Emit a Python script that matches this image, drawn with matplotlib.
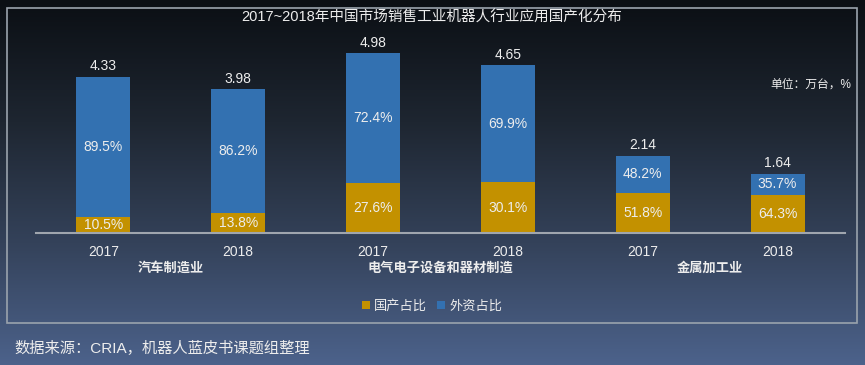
import numpy as np
import matplotlib
matplotlib.use("Agg")
from matplotlib import pyplot as plt
from matplotlib.patches import Rectangle

plt.rcParams['font.family'] = ['Liberation Sans', 'Noto Sans CJK SC', 'DejaVu Sans']

years = ['2017', '2018', '2017', '2018', '2017', '2018']
industries = ['汽车制造业', '电气电子设备和器材制造', '金属加工业']
totals = [4.33, 3.98, 4.98, 4.65, 2.14, 1.64]
domestic_pct = [10.5, 13.8, 27.6, 30.1, 51.8, 64.3]
foreign_pct = [89.5, 86.2, 72.4, 69.9, 48.2, 35.7]

gold = '#C39100'
blue = '#3371B1'
txt = '#EDEDED'

W, H = 865, 365
fig = plt.figure(figsize=(W / 100, H / 100), dpi=100)

# background gradient
bg = fig.add_axes([0, 0, 1, 1], zorder=-10)
grad = np.linspace(0, 1, 256).reshape(-1, 1)
cmap = matplotlib.colors.LinearSegmentedColormap.from_list(
    'bg', ['#0b0f14', '#1e2631', '#34425a', '#4c628b'])
bg.imshow(grad, aspect='auto', cmap=cmap, extent=[0, 1, 0, 1], origin='upper')
bg.set_xlim(0, 1)
bg.set_ylim(0, 1)
bg.axis('off')

# frame
fig.patches.append(Rectangle((7 / W, 1 - 323 / H), 850 / W, 315 / H,
                             transform=fig.transFigure, fill=False,
                             edgecolor='#9aa3ad', linewidth=1.2))

ax = fig.add_axes([36 / W, 1 - 233 / H, 809 / W, 193 / H])
ax.set_facecolor('none')
x = np.arange(len(totals))
dom = np.array(totals) * np.array(domestic_pct) / 100
frn = np.array(totals) * np.array(foreign_pct) / 100
ax.bar(x, dom, width=0.4, color=gold, label='国产占比')
ax.bar(x, frn, width=0.4, bottom=dom, color=blue, label='外资占比')
ax.set_xlim(-0.5, 5.5)
ax.set_ylim(0, 193 / 36.1)

for i in range(len(totals)):
    ax.text(x[i], dom[i] / 2, f'{domestic_pct[i]:.1f}%', ha='center', va='center',
            color=txt, fontsize=10)
    ax.text(x[i], dom[i] + frn[i] / 2, f'{foreign_pct[i]:.1f}%', ha='center', va='center',
            color=txt, fontsize=10)
    ax.text(x[i], totals[i] + 0.1, f'{totals[i]:.2f}', ha='center', va='bottom',
            color=txt, fontsize=10)

for s in ['top', 'right', 'left']:
    ax.spines[s].set_visible(False)
ax.spines['bottom'].set_color('#a0a6ae')
ax.spines['bottom'].set_linewidth(1.5)
ax.set_yticks([])
ax.set_xticks(x)
ax.set_xticklabels(years, color=txt, fontsize=10)
ax.tick_params(axis='x', length=0, pad=9)

for j, name in enumerate(industries):
    ax.text(2 * j + 0.5, -0.98, name, ha='center', va='center', color=txt,
            fontsize=9.5, fontweight='bold')

ax.text(5.55, 4.1, '单位：万台，%', ha='right', va='center', color=txt, fontsize=8.5)

leg = fig.legend(loc='center', bbox_to_anchor=(432 / W, 1 - 306 / H), ncol=2,
                 frameon=False, fontsize=9.5, handlelength=0.6, handleheight=0.6,
                 handletextpad=0.3, columnspacing=0.8)
for t in leg.get_texts():
    t.set_color(txt)

fig.text(432 / W, 1 - 18 / H, '2017~2018年中国市场销售工业机器人行业应用国产化分布',
         ha='center', va='center', color=txt, fontsize=10.5)
fig.text(14 / W, 1 - 348 / H, '数据来源：CRIA，机器人蓝皮书课题组整理',
         ha='left', va='center', color=txt, fontsize=11)

fig.savefig('out.png', dpi=100)
